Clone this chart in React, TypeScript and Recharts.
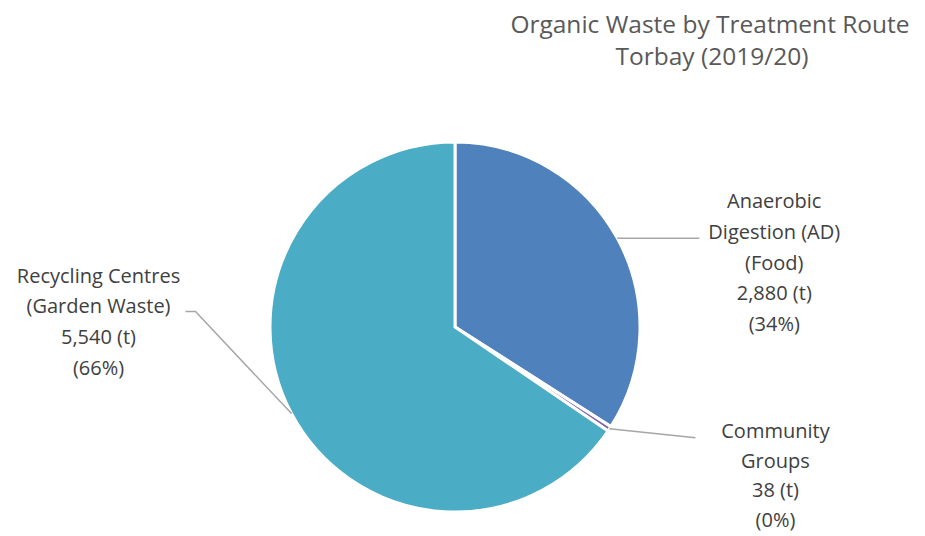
import { PieChart, Pie, Cell } from "recharts";

const routes = ["Anaerobic Digestion (AD) (Food)", "Community Groups", "Recycling Centres (Garden Waste)"];
const tonnes = [2880, 38, 5540];
const labelLines = [
  ["Anaerobic", "Digestion (AD)", "(Food)"],
  ["Community", "Groups"],
  ["Recycling Centres", "(Garden Waste)"],
];
const colors = ["#4F81BD", "#8064A2", "#4BACC6"];

const data = routes.map((name, i) => ({ name, value: tonnes[i] }));

const FONT = "'Open Sans', 'Noto Sans', sans-serif";
const RAD = Math.PI / 180;

// where each label sits, relative to the slice's edge point
const layout = [
  { elbow: [82, 0], end: [82, 0], tx: 157, ty: -30, gap: 30.7 },
  { elbow: [86, 9], end: [86, 9], tx: 166, ty: 9, gap: 29.7 },
  { elbow: [-96, -102], end: [-106, -102], tx: -193, ty: -131, gap: 30.7 },
];

const renderLabel = (props: any) => {
  const { cx, cy, midAngle, outerRadius, index, value, percent } = props;
  const px = cx + outerRadius * Math.cos(-midAngle * RAD);
  const py = cy + outerRadius * Math.sin(-midAngle * RAD);
  const l = layout[index];
  const lines = [
    ...labelLines[index],
    `${value.toLocaleString("en-GB")} (t)`,
    `(${Math.round(percent * 100)}%)`,
  ];
  const tx = px + l.tx;
  const ty = py + l.ty;
  return (
    <g>
      <polyline
        points={`${px},${py} ${px + l.elbow[0]},${py + l.elbow[1]} ${px + l.end[0]},${py + l.end[1]}`}
        fill="none"
        stroke="#A6A6A6"
        strokeWidth={1.5}
      />
      <text x={tx} y={ty} textAnchor="middle" fill="#404040" fontSize={20} fontFamily={FONT}>
        {lines.map((t, i) => (
          <tspan key={i} x={tx} dy={i === 0 ? 0 : l.gap}>
            {t}
          </tspan>
        ))}
      </text>
    </g>
  );
};

export default function App() {
  return (
    <div style={{ position: "absolute", left: 0, top: 0, background: "#fff" }}>
      <PieChart width={925} height={536} margin={{ top: 0, right: 0, bottom: 0, left: 0 }}>
        <text x={710} y={33} textAnchor="middle" fill="#595959" fontSize={24.5} fontFamily={FONT}>
          Organic Waste by Treatment Route
        </text>
        <text x={712} y={65} textAnchor="middle" fill="#595959" fontSize={24.5} fontFamily={FONT}>
          Torbay (2019/20)
        </text>
        <Pie
          data={data}
          dataKey="value"
          nameKey="name"
          cx={455}
          cy={327}
          outerRadius={185}
          startAngle={90}
          endAngle={-270}
          stroke="#fff"
          strokeWidth={3}
          label={renderLabel}
          labelLine={false}
          isAnimationActive={false}
        >
          {data.map((d, i) => (
            <Cell key={d.name} fill={colors[i]} />
          ))}
        </Pie>
      </PieChart>
    </div>
  );
}
